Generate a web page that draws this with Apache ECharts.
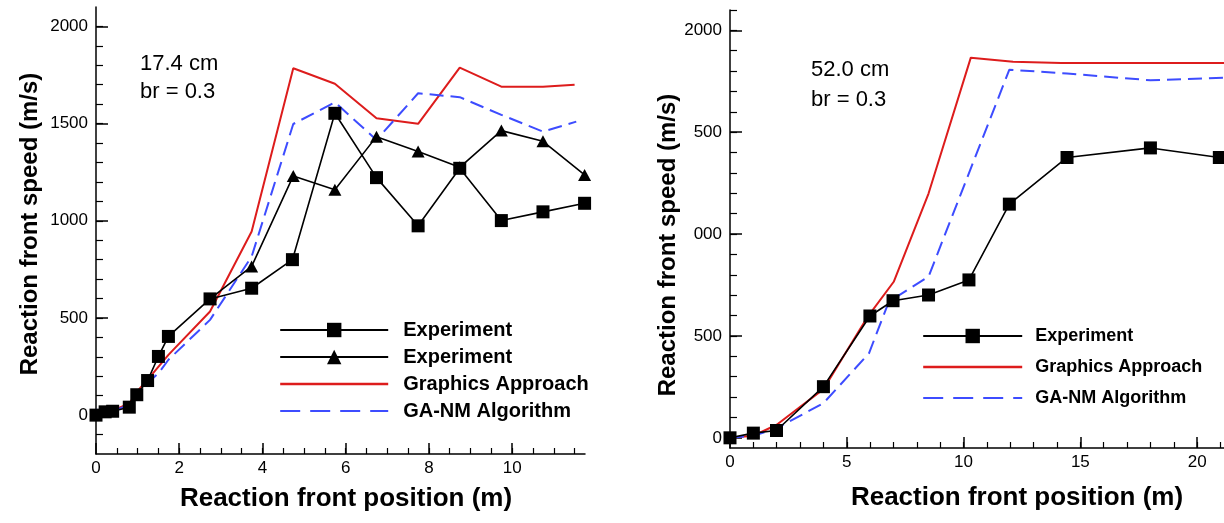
<!DOCTYPE html>
<html><head><meta charset="utf-8">
<script src="https://cdn.jsdelivr.net/npm/echarts@6/dist/echarts.min.js"></script>
<style>html,body{margin:0;padding:0;background:#fff}#c{width:1224px;height:523px}</style>
</head><body><div id="c"></div>
<script>
// ---- Left panel (17.4 cm) ----
const leftSqX = [0, 0.22, 0.4, 0.8, 0.98, 1.24, 1.5, 1.74, 2.74, 3.74, 4.72, 5.74, 6.74, 7.74, 8.74, 9.74, 10.74, 11.74];
const leftSqY = [0, 17, 20, 41, 105, 178, 302, 405, 598, 653, 800, 1553, 1222, 974, 1270, 1001, 1046, 1090];
const leftTriX = [2.74, 3.74, 4.74, 5.74, 6.74, 7.74, 8.74, 9.74, 10.74, 11.74];
const leftTriY = [598, 765, 1231, 1160, 1433, 1356, 1275, 1464, 1409, 1236];
const leftGraphX = [0.2, 0.8, 1.0, 1.25, 1.74, 2.74, 3.74, 4.74, 5.74, 6.74, 7.74, 8.74, 9.74, 10.74, 11.5];
const leftGraphY = [5, 60, 125, 185, 310, 533, 945, 1785, 1705, 1528, 1499, 1788, 1690, 1690, 1700];
const leftGAX = [0, 0.2, 0.8, 1.24, 1.5, 1.74, 2.74, 3.74, 4.74, 5.74, 6.74, 7.74, 8.74, 9.74, 10.74, 11.54];
const leftGAY = [30, 3, 53, 165, 215, 285, 490, 816, 1498, 1610, 1416, 1656, 1636, 1545, 1459, 1510];

// ---- Right panel (52.0 cm) ----
const rightSqX = [0, 1.0, 1.99, 4.0, 5.99, 6.98, 8.5, 10.23, 11.96, 14.43, 18.0, 20.95];
const rightSqY = [0, 23, 36, 251, 598, 673, 701, 775, 1147, 1376, 1423, 1376];
const rightGraphX = [0, 1.0, 2.0, 4.0, 5.9, 7.01, 8.5, 10.31, 12.12, 14.18, 21.15];
const rightGraphY = [0, 10, 64, 239, 595, 766, 1199, 1866, 1846, 1840, 1840];
const rightGAX = [0, 1.0, 2.0, 4.0, 5.95, 6.8, 8.5, 11.96, 14.43, 18.0, 21.15];
const rightGAY = [0, 10, 47, 170, 415, 668, 791, 1807, 1788, 1755, 1768];

// ---- Ticks / labels ----
const leftXTicks = [0, 2, 4, 6, 8, 10];
const leftYTicks = [0, 500, 1000, 1500, 2000];
const rightXTicks = [0, 5, 10, 15, 20];
const rightYTicks = [0, 500, 1000, 1500, 2000];
const rightYLabels = ['0', '500', '000', '500', '2000'];
const seriesNames = { L1: 'Experiment', L2: 'Experiment', L3: 'Graphics Approach', L4: 'GA-NM Algorithm',
                      R1: 'Experiment', R2: 'Graphics Approach', R3: 'GA-NM Algorithm' };
const xTitle = 'Reaction front position (m)';
const yTitle = 'Reaction front speed (m/s)';

function steps(a, b, s) { const r = []; for (let v = a; v <= b + 1e-9; v += s) r.push(Math.round(v * 1000) / 1000); return r; }
function pairs(xs, ys) { return xs.map((x, i) => [x, ys[i]]); }

const FONT = '"Liberation Sans", Arial, sans-serif';
const BLACK = '#000';
const RED = '#dd1c1c';
const BLUE = '#3d4cff';
const NO_SYMBOL = { color: 'rgba(0,0,0,0)', borderWidth: 0, opacity: 0 };

function majorX(grid, min, max, ticks, nameGap, pad) {
  return { type: 'value', gridIndex: grid, min, max, position: 'bottom',
    axisLine: { onZero: false, lineStyle: { color: BLACK, width: 1.5 } },
    axisTick: { inside: true, length: 11, customValues: ticks, lineStyle: { color: BLACK, width: 1.5 } },
    axisLabel: { customValues: ticks, color: BLACK, fontSize: 17, fontFamily: FONT, margin: 6 },
    splitLine: { show: false },
    name: xTitle, nameLocation: 'middle', nameGap,
    nameTextStyle: { fontSize: 26, fontWeight: 'bold', fontFamily: FONT, color: BLACK, padding: pad } };
}
function minorX(grid, min, max, ticks) {
  return { type: 'value', gridIndex: grid, min, max, position: 'bottom',
    axisLine: { show: false, onZero: false },
    axisTick: { inside: true, length: 6, customValues: ticks, lineStyle: { color: BLACK, width: 1.2 } },
    axisLabel: { show: false }, splitLine: { show: false } };
}
function majorY(grid, min, max, ticks, fmt, nameGap, pad) {
  return { type: 'value', gridIndex: grid, min, max, position: 'left',
    axisLine: { show: true, onZero: false, lineStyle: { color: BLACK, width: 1.5 } },
    axisTick: { show: true, inside: true, length: 12, customValues: ticks, lineStyle: { color: BLACK, width: 1.5 } },
    axisLabel: { customValues: ticks, color: BLACK, fontSize: 17, fontFamily: FONT, margin: 8, formatter: fmt },
    splitLine: { show: false },
    name: yTitle, nameLocation: 'middle', nameRotate: 90, nameGap,
    nameTextStyle: { fontSize: 24, fontWeight: 'bold', fontFamily: FONT, color: BLACK, padding: pad } };
}
function minorY(grid, min, max, ticks) {
  return { type: 'value', gridIndex: grid, min, max, position: 'left',
    axisLine: { show: false, onZero: false },
    axisTick: { show: true, inside: true, length: 7, customValues: ticks, lineStyle: { color: BLACK, width: 1.2 } },
    axisLabel: { show: false }, splitLine: { show: false } };
}

const chart = echarts.init(document.getElementById('c'), null, { renderer: 'canvas' });
chart.setOption({
  animation: false,
  backgroundColor: '#fff',
  grid: [
    { left: 96, top: 7, width: 489, height: 447 },
    { left: 730, top: 10, width: 494, height: 438 }
  ],
  xAxis: [
    majorX(0, 0, 11.75, leftXTicks, 32, [0, 0, 0, 11]),
    minorX(0, 0, 11.75, steps(0.5, 11.5, 0.5)),
    majorX(1, 0, 21.15, rightXTicks, 37, [0, 0, 0, 80]),
    minorX(1, 0, 21.15, steps(1, 21, 1))
  ],
  yAxis: [
    majorY(0, -200, 2100, leftYTicks, v => String(v), 54, [0, 0, 0, 13]),
    minorY(0, -200, 2100, steps(-100, 2000, 100)),
    majorY(1, -50, 2100, rightYTicks, v => rightYLabels[rightYTicks.indexOf(v)], 49, [0, 32, 0, 0]),
    minorY(1, -50, 2100, steps(100, 2100, 100))
  ],
  legend: [
    { orient: 'vertical', left: 274, top: 315, itemWidth: 108, itemHeight: 18, itemGap: 7,
      data: [{ name: 'L1', lineStyle: { width: 2.2 } }, { name: 'L2', lineStyle: { width: 2.2 } },
             { name: 'L3', itemStyle: NO_SYMBOL, lineStyle: { width: 2.4 } },
             { name: 'L4', itemStyle: NO_SYMBOL, lineStyle: { width: 2.2, type: [20, 10] } }],
      selectedMode: false, formatter: n => seriesNames[n],
      textStyle: { fontSize: 20, fontWeight: 'bold', fontFamily: FONT, color: BLACK, padding: [0, 0, 0, 10] } },
    { orient: 'vertical', left: 917, top: 322, itemWidth: 99, itemHeight: 18, itemGap: 13,
      data: [{ name: 'R1', lineStyle: { width: 2.2 } },
             { name: 'R2', itemStyle: NO_SYMBOL, lineStyle: { width: 2.4 } },
             { name: 'R3', itemStyle: NO_SYMBOL, lineStyle: { width: 2.2, type: [20, 10] } }],
      selectedMode: false, formatter: n => seriesNames[n],
      textStyle: { fontSize: 18, fontWeight: 'bold', fontFamily: FONT, color: BLACK, padding: [0, 0, 0, 8] } }
  ],
  graphic: [
    { type: 'text', x: 140, y: 64, style: { text: '17.4 cm', fontSize: 22, fontFamily: FONT, fill: BLACK, verticalAlign: 'middle' } },
    { type: 'text', x: 140, y: 92, style: { text: 'br = 0.3', fontSize: 22, fontFamily: FONT, fill: BLACK, verticalAlign: 'middle' } },
    { type: 'text', x: 811, y: 70, style: { text: '52.0 cm', fontSize: 22, fontFamily: FONT, fill: BLACK, verticalAlign: 'middle' } },
    { type: 'text', x: 811, y: 100, style: { text: 'br = 0.3', fontSize: 22, fontFamily: FONT, fill: BLACK, verticalAlign: 'middle' } }
  ],
  series: [
    { name: 'L3', type: 'line', xAxisIndex: 0, yAxisIndex: 0, data: pairs(leftGraphX, leftGraphY),
      symbol: 'none', lineStyle: { color: RED, width: 2 }, itemStyle: { color: RED } },
    { name: 'L4', type: 'line', xAxisIndex: 0, yAxisIndex: 0, data: pairs(leftGAX, leftGAY),
      symbol: 'none', lineStyle: { color: BLUE, width: 2, type: [14, 7] }, itemStyle: { color: BLUE } },
    { name: 'L2', type: 'line', xAxisIndex: 0, yAxisIndex: 0, data: pairs(leftTriX, leftTriY),
      symbol: 'triangle', symbolSize: [13, 12], lineStyle: { color: BLACK, width: 1.6 }, itemStyle: { color: BLACK } },
    { name: 'L1', type: 'line', xAxisIndex: 0, yAxisIndex: 0, data: pairs(leftSqX, leftSqY),
      symbol: 'rect', symbolSize: 13, lineStyle: { color: BLACK, width: 1.6 }, itemStyle: { color: BLACK } },
    { name: 'R2', type: 'line', xAxisIndex: 2, yAxisIndex: 2, data: pairs(rightGraphX, rightGraphY),
      symbol: 'none', lineStyle: { color: RED, width: 2 }, itemStyle: { color: RED } },
    { name: 'R3', type: 'line', xAxisIndex: 2, yAxisIndex: 2, data: pairs(rightGAX, rightGAY),
      symbol: 'none', lineStyle: { color: BLUE, width: 2, type: [14, 7] }, itemStyle: { color: BLUE } },
    { name: 'R1', type: 'line', xAxisIndex: 2, yAxisIndex: 2, data: pairs(rightSqX, rightSqY),
      symbol: 'rect', symbolSize: 13, lineStyle: { color: BLACK, width: 1.6 }, itemStyle: { color: BLACK } }
  ]
});
</script></body></html>
